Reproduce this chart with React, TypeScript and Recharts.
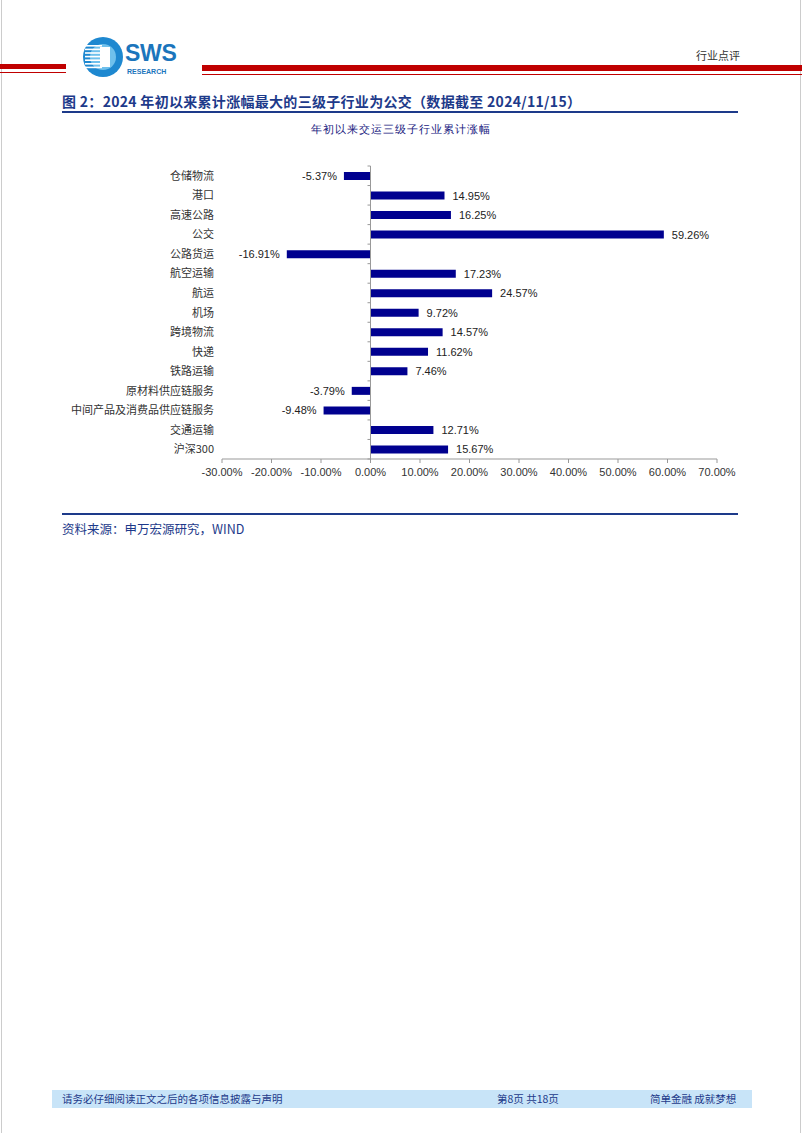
import { BarChart, Bar, XAxis, YAxis, ReferenceLine, LabelList } from 'recharts';

const categories = [
  '仓储物流', '港口', '高速公路', '公交', '公路货运', '航空运输', '航运', '机场',
  '跨境物流', '快递', '铁路运输', '原材料供应链服务', '中间产品及消费品供应链服务', '交通运输', '沪深300',
];
const gains = [-5.37, 14.95, 16.25, 59.26, -16.91, 17.23, 24.57, 9.72, 14.57, 11.62, 7.46, -3.79, -9.48, 12.71, 15.67];
const xTicks = [-30, -20, -10, 0, 10, 20, 30, 40, 50, 60, 70];

const data = categories.map((name, i) => ({ name, value: gains[i] }));

const NAVY = '#1D3A8A';
const BAR = '#00008F';
const CJK = '"Noto Sans CJK SC", "Noto Sans", sans-serif';
const LATIN = '"Liberation Sans", Arial, sans-serif';

// 类目标签，放在图的左边
const CatTick = ({ x, y, payload }: any) => (
  <text x={x} y={y} dy={4} textAnchor="end" fontSize={11} fill="#333" fontFamily={CJK}>
    {payload.value}
  </text>
);

// 0 轴竖线 + 小刻度
const ZeroAxis = (props: any) => {
  const { x1, y1, y2 } = props;
  const n = data.length;
  const marks = [];
  for (let i = 0; i <= n; i++) {
    const y = y1 + ((y2 - y1) * i) / n;
    marks.push(<line key={i} x1={x1 - 3} y1={y} x2={x1} y2={y} stroke="#999" strokeWidth={1} />);
  }
  return (
    <g>
      <line x1={x1} y1={y1} x2={x1} y2={y2} stroke="#999" strokeWidth={1} />
      {marks}
    </g>
  );
};

const ValueLabel = (props: any) => {
  const { x, y, width, height, value } = props;
  const left = Math.min(x, x + width);
  const right = Math.max(x, x + width);
  const neg = value < 0;
  return (
    <text
      x={neg ? left - 7 : right + 8}
      y={y + height / 2}
      dy={4}
      textAnchor={neg ? 'end' : 'start'}
      fontSize={11}
      fill="#222"
      fontFamily={LATIN}
    >
      {Number(value).toFixed(2)}%
    </text>
  );
};

const Logo = () => (
  <svg width={120} height={50} style={{ position: 'absolute', left: 80, top: 33 }}>
    <circle cx={23} cy={24} r={20} fill="#1E88D0" />
    <circle cx={23} cy={24} r={13} fill="#6FC0EC" />
    {[0, 1, 2, 3, 4, 5, 6].map((i) => (
      <rect key={i} x={5} y={12 + i * 3.6} width={17} height={1.6} fill="#fff" />
    ))}
    <rect x={20} y={14} width={10} height={20} fill="#fff" />
    <text x={45} y={28} fontSize={23} fontWeight={700} fill="#1B75BC" fontFamily={LATIN} letterSpacing={-0.3}>
      SWS
    </text>
    <text x={47} y={41} fontSize={7} fontWeight={700} fill="#1B75BC" fontFamily={LATIN}>
      RESEARCH
    </text>
  </svg>
);

export default function App() {
  return (
    <div
      style={{
        position: 'absolute',
        left: 0,
        top: 0,
        width: 802,
        height: 1133,
        background: '#fff',
        fontFamily: CJK,
        overflow: 'hidden',
      }}
    >
      {/* 页面边框 */}
      <div style={{ position: 'absolute', left: 1, top: 0, width: 1, height: 1133, background: '#ccc' }} />
      <div style={{ position: 'absolute', left: 800, top: 0, width: 1, height: 1133, background: '#ccc' }} />

      {/* 页眉 */}
      <div style={{ position: 'absolute', left: 0, top: 64, width: 66, height: 5, background: '#C00000' }} />
      <div style={{ position: 'absolute', left: 0, top: 72, width: 66, height: 1, background: '#C00000' }} />
      <div style={{ position: 'absolute', left: 202, top: 65, width: 600, height: 6, background: '#C00000' }} />
      <div style={{ position: 'absolute', left: 202, top: 74, width: 600, height: 1, background: '#C00000' }} />
      <Logo />
      <div style={{ position: 'absolute', left: 696, top: 47, fontSize: 11, color: '#333' }}>行业点评</div>

      {/* 标题 */}
      <div
        style={{
          position: 'absolute',
          left: 62,
          top: 91,
          fontSize: 14,
          fontWeight: 700,
          letterSpacing: 0.3,
          color: NAVY,
          whiteSpace: 'nowrap',
        }}
      >
        图 2：2024 年初以来累计涨幅最大的三级子行业为公交（数据截至 2024/11/15）
      </div>
      <div style={{ position: 'absolute', left: 62, top: 111, width: 676, height: 2, background: NAVY }} />

      <div
        style={{
          position: 'absolute',
          left: 0,
          width: 802,
          top: 122,
          textAlign: 'center',
          fontSize: 11,
          letterSpacing: 1,
          color: '#202080',
          fontFamily: 'serif',
        }}
      >
        年初以来交运三级子行业累计涨幅
      </div>

      <div style={{ position: 'absolute', left: 0, top: 141 }}>
        <BarChart
          layout="vertical"
          width={802}
          height={350}
          data={data}
          margin={{ top: 25, right: 85, bottom: 2, left: 0 }}
          barSize={8}
        >
          <XAxis
            type="number"
            domain={[-30, 70]}
            ticks={xTicks}
            interval={0}
            tickFormatter={(v: number) => `${v.toFixed(2)}%`}
            axisLine={{ stroke: '#999' }}
            tickLine={{ stroke: '#999' }}
            tickSize={4}
            tickMargin={5}
            height={30}
            tick={{ fontSize: 11, fill: '#333', fontFamily: LATIN }}
          />
          <YAxis
            type="category"
            dataKey="name"
            width={222}
            interval={0}
            axisLine={false}
            tickLine={false}
            tick={<CatTick />}
          />
          <ReferenceLine x={0} stroke="#999" shape={ZeroAxis} />
          <Bar dataKey="value" fill={BAR} isAnimationActive={false}>
            <LabelList dataKey="value" content={ValueLabel} />
          </Bar>
        </BarChart>
      </div>

      {/* 资料来源 */}
      <div style={{ position: 'absolute', left: 62, top: 513, width: 676, height: 2, background: NAVY }} />
      <div style={{ position: 'absolute', left: 62, top: 519, fontSize: 12.5, color: NAVY }}>
        资料来源：申万宏源研究，WIND
      </div>

      {/* 页脚 */}
      <div style={{ position: 'absolute', left: 52, top: 1090, width: 700, height: 18, background: '#C8E4F8' }} />
      <div style={{ position: 'absolute', left: 62, top: 1091, fontSize: 10.5, color: NAVY }}>
        请务必仔细阅读正文之后的各项信息披露与声明
      </div>
      <div style={{ position: 'absolute', left: 497, top: 1091, fontSize: 10.5, color: NAVY }}>第8页 共18页</div>
      <div style={{ position: 'absolute', left: 650, top: 1091, fontSize: 10.5, color: NAVY }}>简单金融 成就梦想</div>
    </div>
  );
}
